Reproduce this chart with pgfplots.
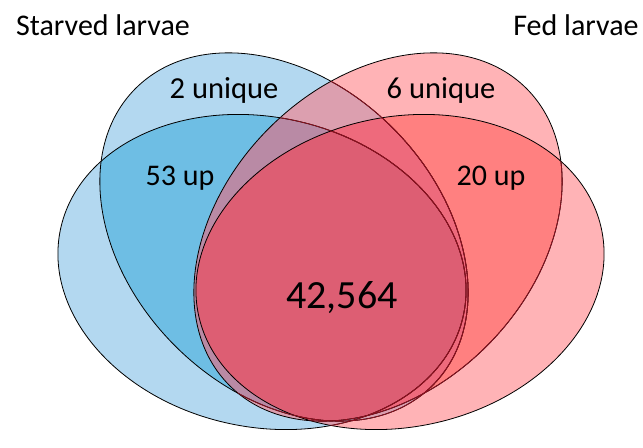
\documentclass[border=0pt]{standalone}
\usepackage{fontspec}
\setmainfont{Carlito}
\usepackage{pgfplots}
\pgfplotsset{compat=1.18}
\definecolor{lb}{RGB}{179,216,240}
\definecolor{mb}{RGB}{110,190,228}
\definecolor{lp}{RGB}{255,179,182}
\definecolor{sp}{RGB}{255,128,128}
\definecolor{m11}{RGB}{220,159,175}
\definecolor{m21}{RGB}{185,138,165}
\definecolor{m12}{RGB}{238,106,124}
\definecolor{m22}{RGB}{221,94,115}
\definecolor{dr}{RGB}{140,16,30}
% ellipses: centre (pixel coords), semi-axes, rotation
\newcommand{\Bone}{(axis cs:284,237) ellipse [x radius=210pt, y radius=154pt, rotate=-45]}
\newcommand{\Pone}{(axis cs:378,237) ellipse [x radius=210pt, y radius=154pt, rotate=45]}
\newcommand{\Btwo}{(axis cs:262,272) ellipse [x radius=206pt, y radius=155pt, rotate=-12]}
\newcommand{\Ptwo}{(axis cs:400,272) ellipse [x radius=206pt, y radius=155pt, rotate=12]}
\begin{document}
\begin{tikzpicture}
\begin{axis}[x=1pt, y=1pt, xmin=0, xmax=643, ymin=0, ymax=433, y dir=reverse,
  hide axis, clip=false, scale only axis]
\path (axis cs:0,0) rectangle (axis cs:643,433);
% single regions
\fill[lb] \Btwo; \fill[lb] \Bone; \fill[lp] \Pone; \fill[lp] \Ptwo;
% pairs
\begin{scope}\clip \Bone; \fill[mb] \Btwo; \end{scope}
\begin{scope}\clip \Bone; \fill[m11] \Pone; \end{scope}
\begin{scope}\clip \Bone; \fill[m11] \Ptwo; \end{scope}
\begin{scope}\clip \Btwo; \fill[m11] \Pone; \end{scope}
\begin{scope}\clip \Btwo; \fill[m11] \Ptwo; \end{scope}
\begin{scope}\clip \Pone; \fill[sp] \Ptwo; \end{scope}
% triples
\begin{scope}\clip \Bone; \clip \Btwo; \fill[m21] \Pone; \end{scope}
\begin{scope}\clip \Bone; \clip \Btwo; \fill[m21] \Ptwo; \end{scope}
\begin{scope}\clip \Pone; \clip \Ptwo; \fill[m12] \Bone; \end{scope}
\begin{scope}\clip \Pone; \clip \Ptwo; \fill[m12] \Btwo; \end{scope}
% all four
\begin{scope}\clip \Bone; \clip \Btwo; \clip \Pone; \fill[m22] \Ptwo; \end{scope}
% outlines
\draw[black, line width=0.8pt] \Btwo;
\draw[black, line width=0.8pt] \Bone;
\draw[black, line width=0.8pt] \Pone;
\draw[black, line width=0.8pt] \Ptwo;
\begin{scope}\clip \Pone; \draw[dr, line width=0.8pt] \Bone; \draw[dr, line width=0.8pt] \Btwo; \end{scope}
\begin{scope}\clip \Ptwo; \draw[dr, line width=0.8pt] \Bone; \draw[dr, line width=0.8pt] \Btwo; \draw[dr, line width=0.8pt] \Pone; \end{scope}
% labels
\node[anchor=base, font=\fontsize{30}{34}\selectfont] at (axis cs:103,35) {Starved larvae};
\node[anchor=base, font=\fontsize{30}{34}\selectfont] at (axis cs:576,35) {Fed larvae};
\node[anchor=base, font=\fontsize{30.5}{34}\selectfont] at (axis cs:224,98) {2 unique};
\node[anchor=base, font=\fontsize{30.5}{34}\selectfont] at (axis cs:441,98) {6 unique};
\node[anchor=base, font=\fontsize{30}{34}\selectfont] at (axis cs:180,185) {53 up};
\node[anchor=base, font=\fontsize{30}{34}\selectfont] at (axis cs:491,185) {20 up};
\node[anchor=base, font=\fontsize{40}{44}\selectfont] at (axis cs:342,308) {42,564};
\end{axis}
\end{tikzpicture}
\end{document}
